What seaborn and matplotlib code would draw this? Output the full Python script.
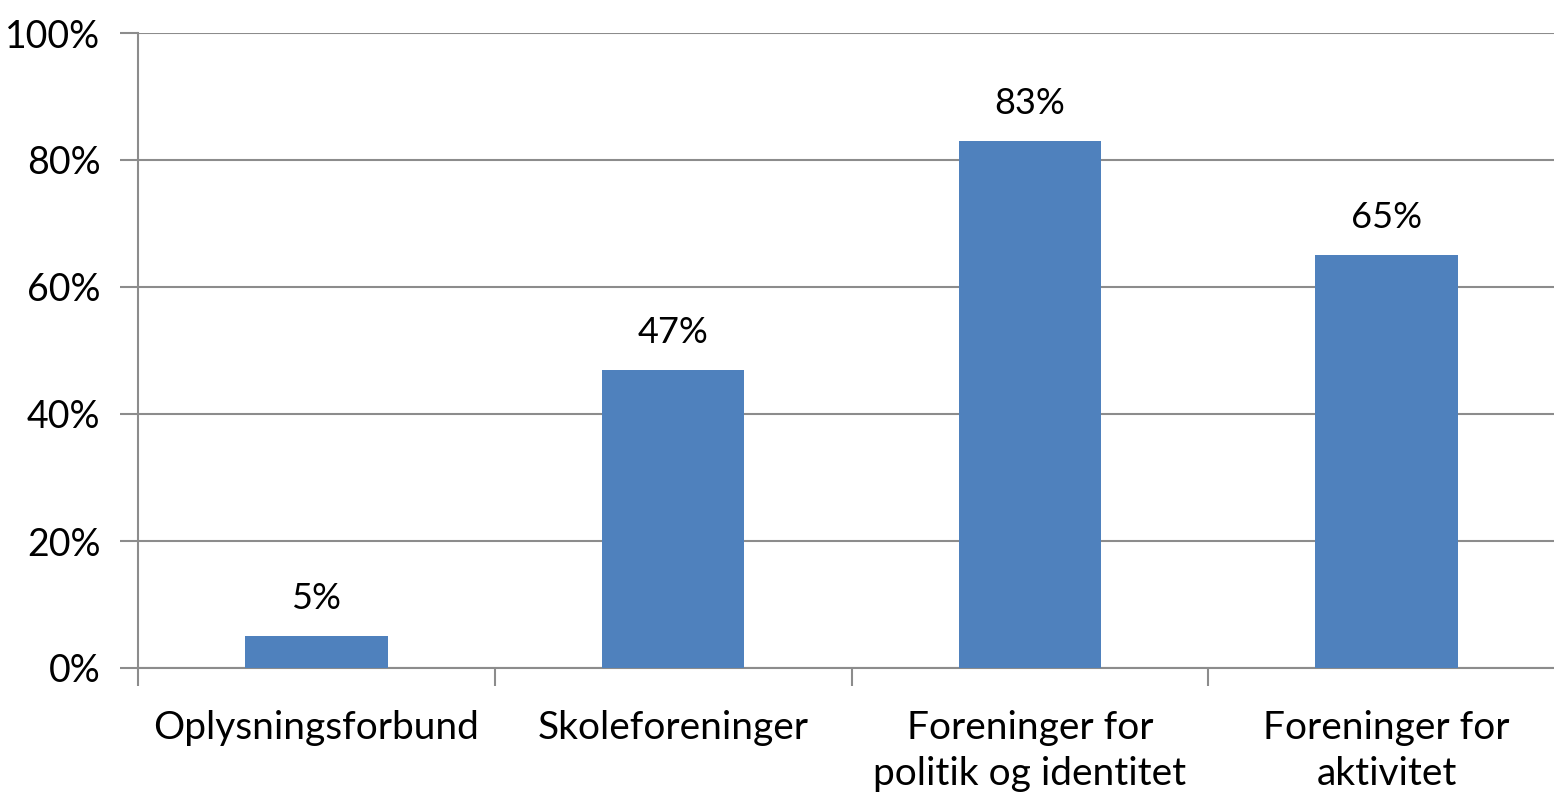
import matplotlib.pyplot as plt
import seaborn as sns
import pandas as pd
from matplotlib.ticker import FixedLocator, PercentFormatter

categories = ["Oplysningsforbund", "Skoleforeninger",
              "Foreninger for\npolitik og identitet", "Foreninger for\naktivitet"]
values = [5, 47, 83, 65]
labels = ["5%", "47%", "83%", "65%"]

df = pd.DataFrame({"kategori": categories, "andel": values})

sns.set_style("white")
plt.rcParams["font.family"] = ["Lato", "DejaVu Sans"]
plt.rcParams["text.color"] = "black"
plt.rcParams["xtick.color"] = "black"
plt.rcParams["ytick.color"] = "black"

fig = plt.figure(figsize=(15.54, 7.92), dpi=100)
ax = fig.add_axes([138 / 1554, 124 / 792, 1427 / 1554, 635 / 792])

sns.barplot(data=df, x="kategori", y="andel", color="#4F81BD", width=0.4,
            saturation=1, linewidth=0, ax=ax, zorder=3)

ax.set_xlim(-0.5, len(categories) - 0.5)
ax.set_ylim(0, 100)
ax.set_yticks(range(0, 101, 20))
ax.yaxis.set_major_formatter(PercentFormatter(decimals=0))
ax.yaxis.grid(True, color="#8c8c8c", linewidth=1.5, zorder=0)

# category boundaries as ticks, labels in the middle
ax.xaxis.set_major_locator(FixedLocator([i - 0.5 for i in range(len(categories) + 1)]))
ax.xaxis.set_major_formatter(plt.NullFormatter())
ax.xaxis.set_minor_locator(FixedLocator(range(len(categories))))
ax.set_xticklabels(categories, minor=True)
ax.tick_params(axis="x", which="major", bottom=True, length=13, width=1.5,
               color="#8c8c8c", direction="out")
ax.tick_params(axis="x", which="minor", bottom=True, length=0, pad=30, labelsize=28,
               labelcolor="black")
ax.tick_params(axis="y", left=True, length=13, width=1.5, color="#8c8c8c",
               direction="out", pad=14, labelsize=27, labelcolor="black")
for lab in ax.get_xticklabels(minor=True):
    lab.set_linespacing(1.35)

for s in ["top", "right"]:
    ax.spines[s].set_visible(False)
for s in ["left", "bottom"]:
    ax.spines[s].set_color("#8c8c8c")
    ax.spines[s].set_linewidth(1.5)

for i, (v, t) in enumerate(zip(values, labels)):
    ax.text(i, v + 3.3, t, ha="center", va="bottom", fontsize=26, color="black")

ax.set_xlabel("")
ax.set_ylabel("")

fig.savefig("out.png", dpi=100)
